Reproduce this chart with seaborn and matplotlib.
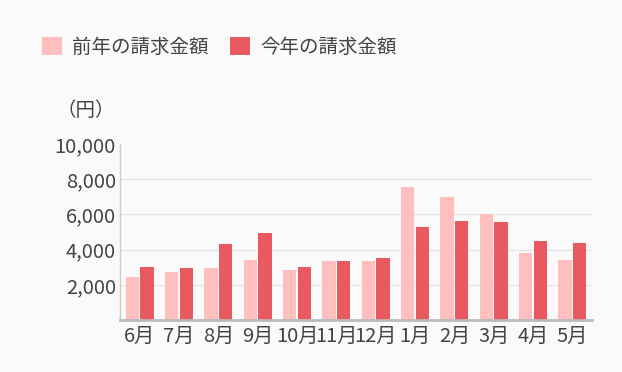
import pandas as pd
import matplotlib
matplotlib.use('Agg')
import matplotlib.pyplot as plt
import seaborn as sns

# 月ごとの請求金額（円）
months = ['6月', '7月', '8月', '9月', '10月', '11月', '12月', '1月', '2月', '3月', '4月', '5月']
prev_year = [2450, 2700, 2970, 3430, 2820, 3370, 3350, 7580, 6990, 6000, 3790, 3430]
this_year = [3000, 2950, 4340, 4970, 3030, 3370, 3540, 5260, 5640, 5560, 4470, 4360]
series_names = ['前年の請求金額', '今年の請求金額']
palette = ['#ffbfbf', '#e85a60']
y_ticks = [2000, 4000, 6000, 8000, 10000]

df = pd.DataFrame({
    '月': months * 2,
    '金額': prev_year + this_year,
    '系列': [series_names[0]] * len(months) + [series_names[1]] * len(months),
})

sns.set_theme(style='white')
plt.rcParams['font.family'] = ['Noto Sans CJK JP', 'DejaVu Sans']
text_color = '#444444'
bg = '#fafafa'

fig = plt.figure(figsize=(6.22, 3.72), dpi=100, facecolor=bg)
ax = fig.add_axes([120 / 622, 1 - 320 / 372, 472 / 622, 176 / 372])
ax.set_facecolor(bg)

sns.barplot(data=df, x='月', y='金額', hue='系列', hue_order=series_names,
            palette=palette, width=0.75, gap=0.1, saturation=1,
            edgecolor='none', ax=ax)

ax.set_ylim(0, 10000)
ax.set_xlim(-0.5, len(months) - 0.5)
ax.set_yticks(y_ticks)
ax.set_yticklabels([f'{v:,}' for v in y_ticks])
ax.set_xlabel('')
ax.set_ylabel('')
ax.tick_params(axis='both', length=0, labelsize=14.5, colors=text_color)
ax.tick_params(axis='y', pad=3)
ax.tick_params(axis='x', pad=4)

# 横の補助線（上端は描かない）
ax.yaxis.grid(True, color='#e6e6e6', linewidth=1)
ax.set_axisbelow(True)
ax.get_ygridlines()[-1].set_visible(False)

for s in ['top', 'right']:
    ax.spines[s].set_visible(False)
ax.spines['left'].set_color('#cccccc')
ax.spines['left'].set_linewidth(1)
ax.spines['bottom'].set_color('#bbbbbb')
ax.spines['bottom'].set_linewidth(2)

# 凡例
handles, labels = ax.get_legend_handles_labels()
ax.get_legend().remove()
fig.legend(handles, labels, loc='center left', bbox_to_anchor=(32 / 622, 1 - 47 / 372),
           ncol=2, frameon=False, fontsize=14, labelcolor=text_color,
           handlelength=1.05, handleheight=1.05, handletextpad=0.5,
           columnspacing=1.1, borderpad=0)

fig.text(57 / 622, 1 - 111 / 372, '（円）', fontsize=14, color=text_color,
         ha='left', va='center')

fig.savefig('out.png', dpi=100, facecolor=bg)
